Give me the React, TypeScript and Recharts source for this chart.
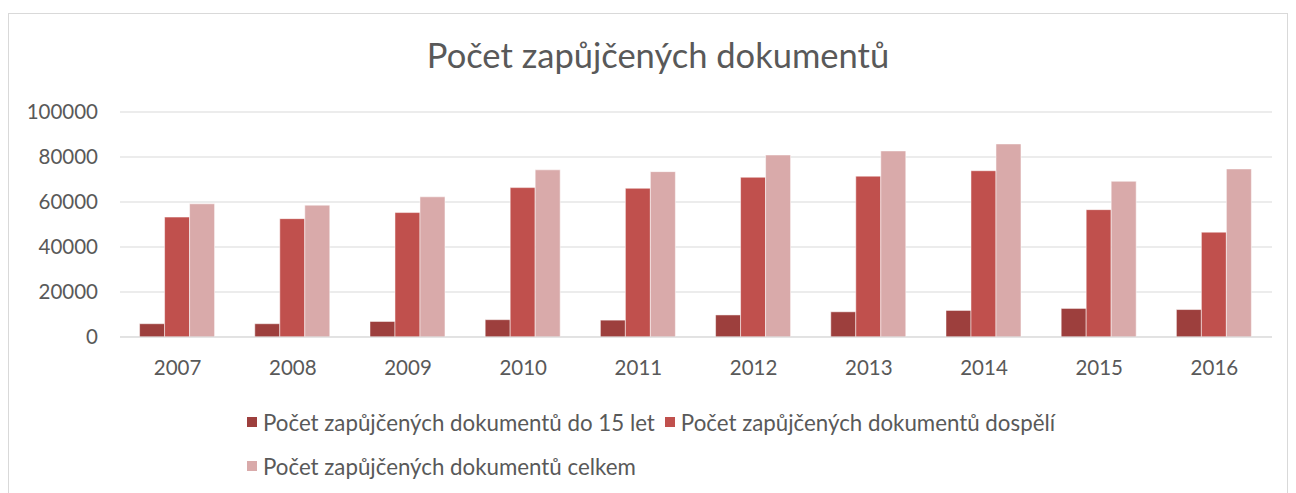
import React from "react";
import { BarChart, Bar, XAxis, YAxis, CartesianGrid, Legend } from "recharts";

const YEARS = ["2007", "2008", "2009", "2010", "2011", "2012", "2013", "2014", "2015", "2016"];
const CHILDREN = [5900, 5900, 6900, 7700, 7500, 9800, 11200, 11800, 12700, 12200];
const ADULTS = [53300, 52600, 55300, 66400, 66100, 71000, 71500, 73900, 56600, 46600];
const TOTALS = [59200, 58600, 62300, 74300, 73500, 80900, 82700, 85800, 69200, 74700];
const Y_TICKS = [0, 20000, 40000, 60000, 80000, 100000];

const SERIES = [
  { key: "deti", name: "Počet zapůjčených dokumentů do 15 let", color: "#9D3F3D" },
  { key: "dospeli", name: "Počet zapůjčených dokumentů dospělí", color: "#C0504D" },
  { key: "celkem", name: "Počet zapůjčených dokumentů celkem", color: "#D9AAAA" },
];

const data = YEARS.map((year, i) => ({
  year,
  deti: CHILDREN[i],
  dospeli: ADULTS[i],
  celkem: TOTALS[i],
}));

const FONT = "Lato, 'Liberation Sans', sans-serif";
const TEXT = "#595959";

const LegendContent = () => (
  <div style={{ display: "flex", flexWrap: "wrap", width: 880, fontFamily: FONT, fontSize: 22.3, color: TEXT }}>
    {SERIES.map((s) => (
      <div key={s.key} style={{ display: "flex", alignItems: "center", height: 44, marginRight: 10 }}>
        <span style={{ width: 10, height: 10, background: s.color, marginRight: 6 }} />
        <span>{s.name}</span>
      </div>
    ))}
  </div>
);

export default function App() {
  return (
    <div
      style={{
        position: "relative",
        marginTop: 5,
        width: 1280,
        height: 485,
        boxSizing: "border-box",
        border: "1px solid #D9D9D9",
        background: "#fff",
        overflow: "hidden",
      }}
    >
      <div
        style={{
          position: "absolute",
          top: 20,
          left: 18,
          width: 1262,
          textAlign: "center",
          fontFamily: FONT,
          fontSize: 34.5,
          color: TEXT,
        }}
      >
        Počet zapůjčených dokumentů
      </div>
      <BarChart
        width={1278}
        height={483}
        data={data}
        margin={{ top: 98, right: 15, bottom: 110, left: 0 }}
        barCategoryGap="17%"
        barGap={0}
      >
        <CartesianGrid vertical={false} stroke="#D9D9D9" />
        <XAxis
          dataKey="year"
          height={50}
          axisLine={{ stroke: "#D9D9D9" }}
          tickLine={false}
          tickMargin={17}
          tick={{ fill: TEXT, fontSize: 20.5, fontFamily: FONT }}
        />
        <YAxis
          width={111}
          domain={[0, 100000]}
          ticks={Y_TICKS}
          axisLine={false}
          tickLine={false}
          tickMargin={16}
          tick={{ fill: TEXT, fontSize: 20.5, fontFamily: FONT }}
        />
        <Legend
          layout="horizontal"
          verticalAlign="middle"
          align="center"
          wrapperStyle={{ top: 386, left: 238, width: 880 }}
          content={<LegendContent />}
        />
        {SERIES.map((s) => (
          <Bar
            key={s.key}
            dataKey={s.key}
            name={s.name}
            fill={s.color}
            stroke="#ffffff"
            strokeOpacity={0.5}
            strokeWidth={1}
            isAnimationActive={false}
          />
        ))}
      </BarChart>
    </div>
  );
}
